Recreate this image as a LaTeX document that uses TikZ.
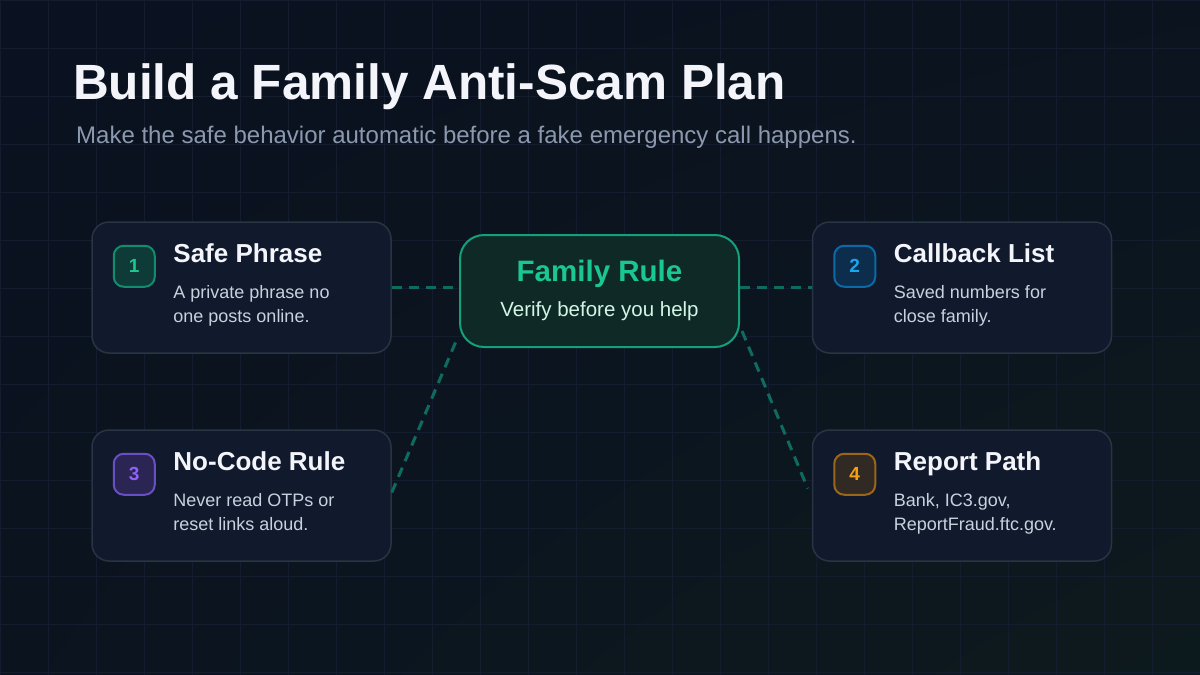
\documentclass[tikz,border=0pt]{standalone}
\usepackage{fontspec}
\setmainfont{Liberation Sans}
\usepackage{xcolor}
\usepackage{tikz}
\usetikzlibrary{
  positioning,
  calc,
  shadings
}
\definecolor{PageTop}{HTML}{0A1120}
\definecolor{PageBottom}{HTML}{0D1A1D}
\definecolor{GridLine}{HTML}{141D2D}
\definecolor{CardFill}{HTML}{111A2C}
\definecolor{CardLine}{HTML}{283343}
\definecolor{TitleWhite}{HTML}{F3F5FA}
\definecolor{SubGray}{HTML}{8B98AE}
\definecolor{BodyGray}{HTML}{C8D1DD}
\definecolor{RuleFill}{HTML}{0F2A26}
\definecolor{RuleLine}{HTML}{13A07B}
\definecolor{RuleText}{HTML}{1AC790}
\definecolor{RuleSub}{HTML}{D3F5E6}
\definecolor{LinkTeal}{HTML}{0F6B60}
\definecolor{OneFill}{HTML}{0E3B38}
\definecolor{OneLine}{HTML}{138C6E}
\definecolor{OneText}{HTML}{1CC98F}
\definecolor{TwoFill}{HTML}{0D2D4C}
\definecolor{TwoLine}{HTML}{0B6AA6}
\definecolor{TwoText}{HTML}{14A8F0}
\definecolor{ThreeFill}{HTML}{2A2552}
\definecolor{ThreeLine}{HTML}{6A4FC4}
\definecolor{ThreeText}{HTML}{8E62F5}
\definecolor{FourFill}{HTML}{312A24}
\definecolor{FourLine}{HTML}{9C6618}
\definecolor{FourText}{HTML}{F5A00F}
\tikzset{
    card/.style={rectangle, fill=CardFill, draw=CardLine, line width=1.5pt, rounded corners=17pt,
        minimum width=299pt, minimum height=131pt},
    badge/.style 2 args={rectangle, fill=#1, draw=#2, line width=2pt, rounded corners=10pt,
        minimum size=41pt, inner sep=0pt, font=\fontsize{19}{19}\selectfont\bfseries},
    cardtitle/.style={anchor=base west, inner sep=0pt, text=TitleWhite,
        font=\fontsize{26}{30}\selectfont\bfseries},
    cardtext/.style={anchor=base west, inner sep=0pt, text=BodyGray, align=left,
        font=\fontsize{18}{24}\selectfont},
    link/.style={draw=LinkTeal, line width=3pt, dash pattern=on 10pt off 7pt}
}

\begin{document}
\begin{tikzpicture}[x=1pt, y=-1pt]
    \useasboundingbox (0,0) rectangle (1200,675);
    \shade[upper left=PageTop, upper right=PageTop!75!PageBottom, lower left=PageTop!75!PageBottom,
        lower right=PageBottom] (0,0) rectangle (1200,675);
    \foreach \gx in {0,48,...,1200} \draw[GridLine, line width=1pt] (\gx,0) -- (\gx,675);
    \foreach \gy in {0,48,...,672} \draw[GridLine, line width=1pt] (0,\gy) -- (1200,\gy);

    % heading
    \node[anchor=base west, inner sep=0pt, text=TitleWhite] (heading) at (73,99)
        {\fontsize{49.5}{56}\selectfont\bfseries Build a Family Anti-Scam Plan};
    \node[anchor=base west, inner sep=0pt, text=SubGray] (subheading) at (76,143)
        {\fontsize{24}{28}\selectfont Make the safe behavior automatic before a fake emergency call happens.};

    % the four cards
    \node[card] (card1) at (241.5,287.5) {};
    \node[card] (card2) at (962,287.5) {};
    \node[card] (card3) at (241.5,495.5) {};
    \node[card] (card4) at (962,495.5) {};

    \node[badge={OneFill}{OneLine}, text=OneText] (badge1) at ([xshift=43pt,yshift=-45pt]card1.north west) {1};
    \node[badge={TwoFill}{TwoLine}, text=TwoText] (badge2) at ([xshift=43pt,yshift=-45pt]card2.north west) {2};
    \node[badge={ThreeFill}{ThreeLine}, text=ThreeText] (badge3) at ([xshift=43pt,yshift=-45pt]card3.north west) {3};
    \node[badge={FourFill}{FourLine}, text=FourText] (badge4) at ([xshift=43pt,yshift=-45pt]card4.north west) {4};

    \node[cardtitle] (title1) at ([xshift=82pt,yshift=-41pt]card1.north west) {Safe Phrase};
    \node[cardtitle] (title2) at ([xshift=82pt,yshift=-41pt]card2.north west) {Callback List};
    \node[cardtitle] (title3) at ([xshift=82pt,yshift=-41pt]card3.north west) {No-Code Rule};
    \node[cardtitle] (title4) at ([xshift=82pt,yshift=-41pt]card4.north west) {Report Path};

    % base of the second line
    \node[cardtext] (text1) at ([xshift=82pt,yshift=-101pt]card1.north west) {A private phrase no\\one posts online.};
    \node[cardtext] (text2) at ([xshift=82pt,yshift=-101pt]card2.north west) {Saved numbers for\\close family.};
    \node[cardtext] (text3) at ([xshift=82pt,yshift=-101pt]card3.north west) {Never read OTPs or\\reset links aloud.};
    \node[cardtext] (text4) at ([xshift=82pt,yshift=-101pt]card4.north west) {Bank, IC3.gov,\\ReportFraud.ftc.gov.};

    % centre rule
    \node[rectangle, fill=RuleFill, draw=RuleLine, line width=2pt, rounded corners=24pt,
        minimum width=279pt, minimum height=112pt] (rule) at (599.5,291) {};
    \node[anchor=base, inner sep=0pt, text=RuleText] (ruletitle) at ([yshift=-47pt]rule.north)
        {\fontsize{29.5}{34}\selectfont\bfseries Family Rule};
    \node[anchor=base, inner sep=0pt, text=RuleSub] (rulesub) at ([yshift=-82pt]rule.north)
        {\fontsize{20.5}{24}\selectfont Verify before you help};

    % dashed links
    \draw[link] (card1.east) -- (card1.east -| rule.west);
    \draw[link] (rule.east |- card2.west) -- (card2.west);
    \draw[link] ([yshift=3pt]card3.east) -- ([xshift=-2pt,yshift=9pt]rule.south west);
    \draw[link] ([xshift=2pt,yshift=17pt]rule.south east) -- ([xshift=-4pt,yshift=7pt]card4.west);
\end{tikzpicture}
\end{document}
